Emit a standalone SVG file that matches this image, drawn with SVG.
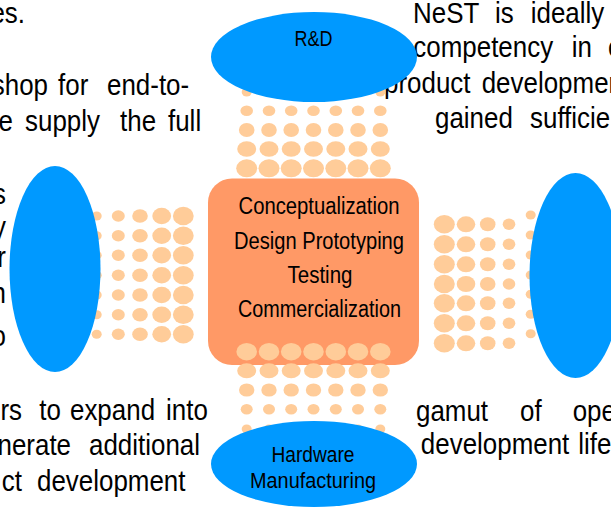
<svg xmlns="http://www.w3.org/2000/svg" width="611" height="508" viewBox="0 0 611 508">
<defs>
<style>
.body{font-family:"Liberation Sans",Arial,sans-serif;font-size:30px;fill:#000}
.e{text-anchor:end}
.lbl{font-family:"Liberation Sans",Arial,sans-serif;fill:#000;text-anchor:middle}
.blue{fill:#0099FF}
.box{fill:#FF9966}
.dot{fill:#FFCC99}
</style>
</defs>
<rect width="611" height="508" fill="#fff"/>
<g id="body-text" transform="scale(0.865 1)" class="body">
<text x="28.9" y="23" class="e">es.</text>
<text x="55.49" y="95" class="e">shop</text>
<text x="67.05" y="95">for</text>
<text x="123.7" y="95">end-to-</text>
<text x="15.03" y="131" class="e">e</text>
<text x="28.9" y="131">supply</text>
<text x="138.73" y="131">the</text>
<text x="194.22" y="131">full</text>
<text x="6.94" y="204" class="e">s</text>
<text x="6.94" y="237" class="e">y</text>
<text x="6.94" y="267" class="e">r</text>
<text x="6.94" y="303" class="e">n</text>
<text x="6.94" y="346" class="e">o</text>
<text x="25.43" y="420" class="e">rs</text>
<text x="45.5" y="420">to</text>
<text x="80.92" y="420">expand</text>
<text x="191.91" y="420">into</text>
<text x="82.08" y="455" class="e">nerate</text>
<text x="102.89" y="455">additional</text>
<text x="25.43" y="491" class="e">ct</text>
<text x="42.77" y="491">development</text>
<text x="477.46" y="23">NeST</text>
<text x="572.25" y="23">is</text>
<text x="613.53" y="23">ideally</text>
<text x="477.8" y="57.3">competency</text>
<text x="660.92" y="57.3">in</text>
<text x="702.89" y="57.3">e</text>
<text x="443.93" y="92.7">product</text>
<text x="556.88" y="92.7">development</text>
<text x="502.89" y="128">gained</text>
<text x="612.72" y="128">sufficient</text>
<text x="480.92" y="420.7">gamut</text>
<text x="601.16" y="420.7">of</text>
<text x="662.08" y="420.7">open</text>
<text x="486.5" y="454">development</text>
<text x="668.5" y="454">lifecycle</text>
</g>
<g id="center">
<rect class="box" x="208" y="178.5" width="211" height="186.5" rx="24"/>
<text class="lbl" x="319" y="214" font-size="23" textLength="161" lengthAdjust="spacingAndGlyphs">Conceptualization</text>
<text class="lbl" x="319" y="249" font-size="23" textLength="170" lengthAdjust="spacingAndGlyphs">Design Prototyping</text>
<text class="lbl" x="320" y="283" font-size="23" textLength="65" lengthAdjust="spacingAndGlyphs">Testing</text>
<text class="lbl" x="319.5" y="317" font-size="23" textLength="163" lengthAdjust="spacingAndGlyphs">Commercialization</text>
</g>
<g id="connectors" class="dot">
<g id="dots-top">
<ellipse cx="246.7" cy="92" rx="5" ry="4.5"/><ellipse cx="269" cy="92" rx="5" ry="4.5"/><ellipse cx="291.2" cy="92" rx="5" ry="4.5"/><ellipse cx="313.5" cy="92" rx="5" ry="4.5"/><ellipse cx="335.8" cy="92" rx="5" ry="4.5"/><ellipse cx="358" cy="92" rx="5" ry="4.5"/><ellipse cx="380.3" cy="92" rx="5" ry="4.5"/>
<ellipse cx="246.7" cy="110.7" rx="6.3" ry="5.3"/><ellipse cx="269" cy="110.7" rx="6.3" ry="5.3"/><ellipse cx="291.2" cy="110.7" rx="6.3" ry="5.3"/><ellipse cx="313.5" cy="110.7" rx="6.3" ry="5.3"/><ellipse cx="335.8" cy="110.7" rx="6.3" ry="5.3"/><ellipse cx="358" cy="110.7" rx="6.3" ry="5.3"/><ellipse cx="380.3" cy="110.7" rx="6.3" ry="5.3"/>
<ellipse cx="246.7" cy="130" rx="7.8" ry="7"/><ellipse cx="269" cy="130" rx="7.8" ry="7"/><ellipse cx="291.2" cy="130" rx="7.8" ry="7"/><ellipse cx="313.5" cy="130" rx="7.8" ry="7"/><ellipse cx="335.8" cy="130" rx="7.8" ry="7"/><ellipse cx="358" cy="130" rx="7.8" ry="7"/><ellipse cx="380.3" cy="130" rx="7.8" ry="7"/>
<ellipse cx="246.7" cy="149" rx="9.5" ry="7.8"/><ellipse cx="269" cy="149" rx="9.5" ry="7.8"/><ellipse cx="291.2" cy="149" rx="9.5" ry="7.8"/><ellipse cx="313.5" cy="149" rx="9.5" ry="7.8"/><ellipse cx="335.8" cy="149" rx="9.5" ry="7.8"/><ellipse cx="358" cy="149" rx="9.5" ry="7.8"/><ellipse cx="380.3" cy="149" rx="9.5" ry="7.8"/>
<ellipse cx="246.7" cy="168.3" rx="10.5" ry="9"/><ellipse cx="269" cy="168.3" rx="10.5" ry="9"/><ellipse cx="291.2" cy="168.3" rx="10.5" ry="9"/><ellipse cx="313.5" cy="168.3" rx="10.5" ry="9"/><ellipse cx="335.8" cy="168.3" rx="10.5" ry="9"/><ellipse cx="358" cy="168.3" rx="10.5" ry="9"/><ellipse cx="380.3" cy="168.3" rx="10.5" ry="9"/>
</g>
<g id="dots-bottom">
<ellipse cx="246.7" cy="351.7" rx="10.3" ry="8.7"/><ellipse cx="269" cy="351.7" rx="10.3" ry="8.7"/><ellipse cx="291.2" cy="351.7" rx="10.3" ry="8.7"/><ellipse cx="313.5" cy="351.7" rx="10.3" ry="8.7"/><ellipse cx="335.8" cy="351.7" rx="10.3" ry="8.7"/><ellipse cx="358" cy="351.7" rx="10.3" ry="8.7"/><ellipse cx="380.3" cy="351.7" rx="10.3" ry="8.7"/>
<ellipse cx="246.7" cy="370.7" rx="9.5" ry="7.5"/><ellipse cx="269" cy="370.7" rx="9.5" ry="7.5"/><ellipse cx="291.2" cy="370.7" rx="9.5" ry="7.5"/><ellipse cx="313.5" cy="370.7" rx="9.5" ry="7.5"/><ellipse cx="335.8" cy="370.7" rx="9.5" ry="7.5"/><ellipse cx="358" cy="370.7" rx="9.5" ry="7.5"/><ellipse cx="380.3" cy="370.7" rx="9.5" ry="7.5"/>
<ellipse cx="246.7" cy="390" rx="7.7" ry="6.6"/><ellipse cx="269" cy="390" rx="7.7" ry="6.6"/><ellipse cx="291.2" cy="390" rx="7.7" ry="6.6"/><ellipse cx="313.5" cy="390" rx="7.7" ry="6.6"/><ellipse cx="335.8" cy="390" rx="7.7" ry="6.6"/><ellipse cx="358" cy="390" rx="7.7" ry="6.6"/><ellipse cx="380.3" cy="390" rx="7.7" ry="6.6"/>
<ellipse cx="246.7" cy="409.3" rx="6" ry="5.2"/><ellipse cx="269" cy="409.3" rx="6" ry="5.2"/><ellipse cx="291.2" cy="409.3" rx="6" ry="5.2"/><ellipse cx="313.5" cy="409.3" rx="6" ry="5.2"/><ellipse cx="335.8" cy="409.3" rx="6" ry="5.2"/><ellipse cx="358" cy="409.3" rx="6" ry="5.2"/><ellipse cx="380.3" cy="409.3" rx="6" ry="5.2"/>
<ellipse cx="246.7" cy="429" rx="5" ry="4.5"/><ellipse cx="269" cy="429" rx="5" ry="4.5"/><ellipse cx="291.2" cy="429" rx="5" ry="4.5"/><ellipse cx="313.5" cy="429" rx="5" ry="4.5"/><ellipse cx="335.8" cy="429" rx="5" ry="4.5"/><ellipse cx="358" cy="429" rx="5" ry="4.5"/><ellipse cx="380.3" cy="429" rx="5" ry="4.5"/>
</g>
<g id="dots-left">
<ellipse cx="96.7" cy="216" rx="5" ry="4.5"/><ellipse cx="96.7" cy="235.7" rx="5" ry="4.5"/><ellipse cx="96.7" cy="255.3" rx="5" ry="4.5"/><ellipse cx="96.7" cy="275.3" rx="5" ry="4.5"/><ellipse cx="96.7" cy="295" rx="5" ry="4.5"/><ellipse cx="96.7" cy="314.7" rx="5" ry="4.5"/><ellipse cx="96.7" cy="334.3" rx="5" ry="4.5"/>
<ellipse cx="118.3" cy="216" rx="6.5" ry="5.7"/><ellipse cx="118.3" cy="235.7" rx="6.5" ry="5.7"/><ellipse cx="118.3" cy="255.3" rx="6.5" ry="5.7"/><ellipse cx="118.3" cy="275.3" rx="6.5" ry="5.7"/><ellipse cx="118.3" cy="295" rx="6.5" ry="5.7"/><ellipse cx="118.3" cy="314.7" rx="6.5" ry="5.7"/><ellipse cx="118.3" cy="334.3" rx="6.5" ry="5.7"/>
<ellipse cx="140" cy="216" rx="7.8" ry="6.8"/><ellipse cx="140" cy="235.7" rx="7.8" ry="6.8"/><ellipse cx="140" cy="255.3" rx="7.8" ry="6.8"/><ellipse cx="140" cy="275.3" rx="7.8" ry="6.8"/><ellipse cx="140" cy="295" rx="7.8" ry="6.8"/><ellipse cx="140" cy="314.7" rx="7.8" ry="6.8"/><ellipse cx="140" cy="334.3" rx="7.8" ry="6.8"/>
<ellipse cx="161.7" cy="216" rx="9.4" ry="8.2"/><ellipse cx="161.7" cy="235.7" rx="9.4" ry="8.2"/><ellipse cx="161.7" cy="255.3" rx="9.4" ry="8.2"/><ellipse cx="161.7" cy="275.3" rx="9.4" ry="8.2"/><ellipse cx="161.7" cy="295" rx="9.4" ry="8.2"/><ellipse cx="161.7" cy="314.7" rx="9.4" ry="8.2"/><ellipse cx="161.7" cy="334.3" rx="9.4" ry="8.2"/>
<ellipse cx="183.3" cy="216" rx="10.4" ry="9.2"/><ellipse cx="183.3" cy="235.7" rx="10.4" ry="9.2"/><ellipse cx="183.3" cy="255.3" rx="10.4" ry="9.2"/><ellipse cx="183.3" cy="275.3" rx="10.4" ry="9.2"/><ellipse cx="183.3" cy="295" rx="10.4" ry="9.2"/><ellipse cx="183.3" cy="314.7" rx="10.4" ry="9.2"/><ellipse cx="183.3" cy="334.3" rx="10.4" ry="9.2"/>
</g>
<g id="dots-right">
<ellipse cx="444.3" cy="224.3" rx="10.5" ry="9.2"/><ellipse cx="444.3" cy="244.3" rx="10.5" ry="9.2"/><ellipse cx="444.3" cy="264.3" rx="10.5" ry="9.2"/><ellipse cx="444.3" cy="284" rx="10.5" ry="9.2"/><ellipse cx="444.3" cy="303.3" rx="10.5" ry="9.2"/><ellipse cx="444.3" cy="323.3" rx="10.5" ry="9.2"/><ellipse cx="444.3" cy="343.3" rx="10.5" ry="9.2"/>
<ellipse cx="466" cy="224.3" rx="9.3" ry="8"/><ellipse cx="466" cy="244.3" rx="9.3" ry="8"/><ellipse cx="466" cy="264.3" rx="9.3" ry="8"/><ellipse cx="466" cy="284" rx="9.3" ry="8"/><ellipse cx="466" cy="303.3" rx="9.3" ry="8"/><ellipse cx="466" cy="323.3" rx="9.3" ry="8"/><ellipse cx="466" cy="343.3" rx="9.3" ry="8"/>
<ellipse cx="487.7" cy="224.3" rx="7.8" ry="7"/><ellipse cx="487.7" cy="244.3" rx="7.8" ry="7"/><ellipse cx="487.7" cy="264.3" rx="7.8" ry="7"/><ellipse cx="487.7" cy="284" rx="7.8" ry="7"/><ellipse cx="487.7" cy="303.3" rx="7.8" ry="7"/><ellipse cx="487.7" cy="323.3" rx="7.8" ry="7"/><ellipse cx="487.7" cy="343.3" rx="7.8" ry="7"/>
<ellipse cx="509" cy="224.3" rx="6.3" ry="5.7"/><ellipse cx="509" cy="244.3" rx="6.3" ry="5.7"/><ellipse cx="509" cy="264.3" rx="6.3" ry="5.7"/><ellipse cx="509" cy="284" rx="6.3" ry="5.7"/><ellipse cx="509" cy="303.3" rx="6.3" ry="5.7"/><ellipse cx="509" cy="323.3" rx="6.3" ry="5.7"/><ellipse cx="509" cy="343.3" rx="6.3" ry="5.7"/>
<ellipse cx="530.7" cy="215" rx="5" ry="4.5"/><ellipse cx="530.7" cy="235" rx="5" ry="4.5"/><ellipse cx="530.7" cy="255" rx="5" ry="4.5"/><ellipse cx="530.7" cy="275" rx="5" ry="4.5"/><ellipse cx="530.7" cy="294.3" rx="5" ry="4.5"/><ellipse cx="530.7" cy="314.3" rx="5" ry="4.5"/><ellipse cx="530.7" cy="333.7" rx="5" ry="4.5"/>
</g>
</g>
<g id="rnd">
<ellipse class="blue" cx="314" cy="57" rx="103" ry="45"/>
<text class="lbl" x="313.5" y="45.7" font-size="22" textLength="38" lengthAdjust="spacingAndGlyphs">R&amp;D</text>
</g>
<g id="hardware">
<ellipse class="blue" cx="314" cy="464" rx="103" ry="43"/>
<text class="lbl" x="313" y="461.7" font-size="22" textLength="83" lengthAdjust="spacingAndGlyphs">Hardware</text>
<text class="lbl" x="313" y="488" font-size="22" textLength="126" lengthAdjust="spacingAndGlyphs">Manufacturing</text>
</g>
<g id="left-node">
<ellipse class="blue" cx="55" cy="269" rx="45.5" ry="103"/>
</g>
<g id="right-node">
<ellipse class="blue" cx="575.5" cy="275.5" rx="46" ry="102.5"/>
</g>
</svg>
